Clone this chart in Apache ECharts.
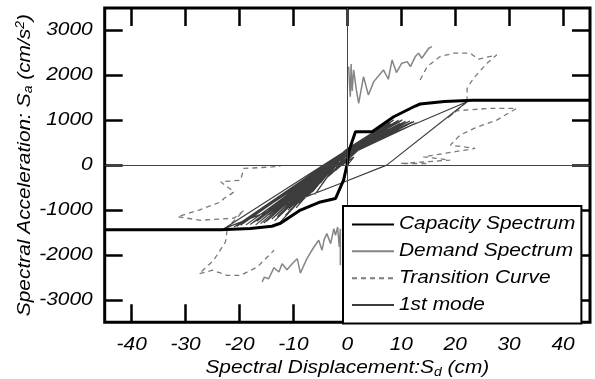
<!DOCTYPE html>
<html>
<head>
<meta charset="utf-8">
<script src="https://cdn.jsdelivr.net/npm/echarts@6/dist/echarts.min.js"></script>
<style>
html,body{margin:0;padding:0;background:#fff;}
#chart{width:595px;height:379px;}
</style>
</head>
<body>
<div id="chart"></div>
<script>
// ---- data ----
const xTicks = [-40, -30, -20, -10, 0, 10, 20, 30, 40];
const yTicks = [-3000, -2000, -1000, 0, 1000, 2000, 3000];

const capacity = [[-45,-1440],[-23.5,-1440],[-18,-1410],[-14,-1360],[-12.4,-1295],[-8.7,-1000],[-5,-820],[-2.2,-744],[-0.7,-335],[0,40],[0.25,297],[1.5,744],[4.6,744],[8.6,1078],[12.6,1317],[13.5,1362],[18,1420],[23.3,1445],[45,1445]];

const demandUpper = [[0.25,2195],[0.4,1800],[0.55,1525],[0.7,2250],[0.9,1650],[1.17,2120],[1.67,1674],[2.1,1377],[3.0,1971],[3.9,1562],[4.9,1860],[6.7,2120],[7.6,1913],[8.3,2344],[9.1,2061],[10.1,2270],[11.1,2306],[11.7,2195],[12.6,2418],[13.2,2493],[13.8,2381],[15.1,2604],[15.7,2641]];

const demandLower = [[-1.3,-2232],[-1.3,-1414],[-1.5,-1823],[-1.8,-1377],[-2.2,-1563],[-2.5,-1414],[-3.1,-1748],[-3.8,-1525],[-4.3,-1659],[-4.7,-1897],[-5.3,-1674],[-6.2,-1823],[-7.5,-2083],[-8.7,-2403],[-9.3,-2083],[-10.1,-2180],[-11.2,-2329],[-12.1,-2195],[-12.7,-2381],[-13.6,-2284],[-14.6,-2530],[-15.4,-2493],[-15.8,-2604]];

const transUpperTop = [[13.5,1897],[14.8,2195],[17.2,2418],[19.7,2493],[22.8,2493],[24.3,2360],[27.7,2455],[25.9,2270],[23.4,1935],[22.2,1712],[22.2,1445]];
const transUpperLow = [[22.2,1413],[18.5,1042],[20.3,1212],[26.5,1265],[31.4,1265],[27.7,1004],[23.5,820],[20.9,670],[19.1,446],[23.7,372],[14.1,186],[19.1,112],[9.8,37],[15.4,37]];
const transLowerTop = [[-22.6,-1440],[-19.2,-1010],[-21,-1180],[-27.2,-1228],[-31.5,-1150],[-27.5,-1000],[-23.5,-820],[-22.9,-744],[-21,-596],[-23.5,-372],[-19.8,-335],[-19.2,-74],[-14,-40],[-12.4,-22]];
const transLowerLow = [[-22.3,-1451],[-22.6,-1712],[-24.8,-2120],[-27.5,-2418],[-25,-2340],[-22.3,-2455],[-19.8,-2455],[-16.7,-2270],[-13.6,-1897]];

const firstMode = [[0,0],[1.2,180],[-1,0],[2,330],[-2.2,-120],[3,450],[-3.5,-250],[-0.6,260],
 [3.5,560],[-0.2,330],[-5,-400],[-0.8,250],[4.2,600],[0.1,360],[-6.5,-600],[-0.5,300],
 [5,680],[-0.9,240],[-8,-750],[-0.3,320],[5.8,720],[-1.1,220],[-9,-850],[0,350],
 [6.5,800],[-0.6,280],[-10,-900],[-0.2,340],[7.2,850],[-1.3,200],[-11,-1000],[-0.4,300],
 [8,930],[-0.7,270],[-12.4,-1265],[0.2,380],[8.6,1004],[-0.5,290],[-13,-1150],[-1,230],
 [9.2,960],[-0.3,320],[-14,-1200],[-0.8,250],[10,990],[0.1,360],[-15,-1250],[-0.6,280],
 [10.8,975],[-1.2,210],[-16.1,-1302],[-0.4,310],[11.6,985],[-0.9,240],[-17.3,-1265],[-0.1,340],
 [12.4,970],[-0.5,290],[-18,-1320],[-0.7,260],[13.5,966],[22.2,1413],[7.3,0],[-1.3,-409],[-22.9,-1414],
 [-0.3,320],[12,960],[-0.8,250],[-19.8,-1340],[-0.4,300],[11,950],[-1.1,220],[-21,-1380],[-0.2,330],
 [9.5,1000],[-0.6,270],[-16.5,-1200],[0,350],[7,880],[-1,230],[-14.5,-1100],[-0.4,300],
 [6,760],[-0.7,260],[-12,-1050],[-0.2,330],[4.8,640],[-0.9,240],[-10.5,-1000],[-0.5,290],
 [3.8,520],[-1.2,200],[-7,-650],[-0.3,320],[2.5,420],[-4,-300],[1.5,300],[-2,-50],[0.5,200],[-0.5,100],
 [-1.5,150],[4.4,700],[-0.8,240],[-11.5,-1120],[0.3,390],[7.8,960],[-1.4,180],[-15.5,-1290],[-0.2,350],
 [10.2,1010],[-1,210],[-13.5,-1240],[0.1,370],[5.5,760],[-1.6,160],[-9.5,-950],[-0.3,330],[8.4,990],
 [-1.2,190],[-17,-1330],[0,360],[3,560],[-2.5,-60],[-6,-650],[-0.9,230],[2,380],[-3,-200],[0,250],
 [-2.4,60],[6.8,820],[-1.8,100],[-13.8,-1180],[-0.6,260],[9.8,930],[-2,90],[-18.8,-1330],[-0.9,230],
 [11.2,900],[-1.7,120],[-10.8,-960],[0.4,400],[6.2,700],[-2.6,30],[-16.8,-1250],[-1.1,210],[12.8,940],
 [-1.9,110],[-8.5,-780],[-0.2,320],[4.6,560],[-2.8,0],[-12.8,-1120],[-1.4,170],[9,870],[-2.2,70],
 [-20.5,-1360],[-0.8,250],[7.6,800],[-1.6,140],[-7.5,-700],[0.2,370],[3.4,480],[-3.2,-120],[-1,180]];

const legendNames = ['Capacity Spectrum','Demand Spectrum','Transition Curve','1st mode'];

// ---- reference glyphs are horizontally stretched: stretch canvas text by K ----
(function(){
  const K = 1.16;
  const proto = CanvasRenderingContext2D.prototype;
  const oFill = proto.fillText, oStroke = proto.strokeText, oMeasure = proto.measureText;
  proto.fillText = function(t, x, y){
    this.save(); this.translate(x, y); this.scale(K, 1); oFill.call(this, t, 0, 0); this.restore();
  };
  proto.strokeText = function(t, x, y){
    this.save(); this.translate(x, y); this.scale(K, 1); oStroke.call(this, t, 0, 0); this.restore();
  };
  proto.measureText = function(t){
    const m = oMeasure.call(this, t);
    return {
      width: m.width * K,
      actualBoundingBoxLeft: m.actualBoundingBoxLeft * K,
      actualBoundingBoxRight: m.actualBoundingBoxRight * K,
      actualBoundingBoxAscent: m.actualBoundingBoxAscent,
      actualBoundingBoxDescent: m.actualBoundingBoxDescent,
      fontBoundingBoxAscent: m.fontBoundingBoxAscent,
      fontBoundingBoxDescent: m.fontBoundingBoxDescent
    };
  };
})();

// ---- chart ----
const FONT = "'Liberation Sans', Arial, sans-serif";
const chart = echarts.init(document.getElementById('chart'), null, {renderer:'canvas'});

const tickStyle = {show:true, inside:true, length:18, lineStyle:{color:'#000', width:2.5}};
const labelStyle = {fontSize:18, fontStyle:'italic', color:'#000', fontFamily:FONT, formatter:v => String(v)};

function lineSeries(name, data, color, width, type, z) {
  return {type:'line', name:name, data:data, xAxisIndex:0, yAxisIndex:0, symbol:'none', showSymbol:false,
    silent:true, z:z, lineStyle:{color:color, width:width, type:type}, itemStyle:{color:color}, animation:false};
}

const series = [
  lineSeries('1st mode', firstMode, '#3c3c3c', 1.2, 'solid', 3),
  lineSeries('Demand Spectrum', demandUpper, '#858585', 1.5, 'solid', 2),
  lineSeries('Demand Spectrum', demandLower, '#858585', 1.5, 'solid', 2),
  lineSeries('Transition Curve', transUpperTop, '#7a7a7a', 1.3, [5,4], 2),
  lineSeries('Transition Curve', transUpperLow, '#7a7a7a', 1.3, [5,4], 2),
  lineSeries('Transition Curve', transLowerTop, '#7a7a7a', 1.3, [5,4], 2),
  lineSeries('Transition Curve', transLowerLow, '#7a7a7a', 1.3, [5,4], 2),
  lineSeries('Capacity Spectrum', capacity, '#000', 3, 'solid', 4)
];
series.push({type:'line', data:[], xAxisIndex:0, yAxisIndex:0, silent:true,
  markLine:{silent:true, symbol:['none','none'], label:{show:false}, animation:false,
    lineStyle:{color:'#444', width:1, type:'solid'}, data:[{xAxis:0},{yAxis:0}]}});

const nameRich = {
  sub:{fontSize:12, fontStyle:'italic', fontFamily:FONT, color:'#000', verticalAlign:'bottom', lineHeight:12, padding:[10,0,0,0]},
  sup:{fontSize:12, fontStyle:'italic', fontFamily:FONT, color:'#000', verticalAlign:'top', lineHeight:12, padding:[0,0,10,0]}
};

const option = {
  animation:false,
  backgroundColor:'#fff',
  grid:{left:104.7, right:5, top:8, bottom:56.7, containLabel:false, outerBoundsMode:'none',
    show:true, borderColor:'#000', borderWidth:3, backgroundColor:'transparent'},
  legend:{orient:'vertical', left:343, top:206, padding:[8,6,8,8], itemWidth:42, itemHeight:14, itemGap:6,
    backgroundColor:'#fff', borderColor:'#000', borderWidth:2, selectedMode:false,
    itemStyle:{opacity:0, borderWidth:0},
    textStyle:{fontSize:18, fontStyle:'italic', fontFamily:FONT, color:'#000'},
    data:legendNames, z:10},
  xAxis:[
    {type:'value', min:-45, max:45, position:'bottom',
     axisLine:{show:false, onZero:false}, axisTick:Object.assign({customValues:xTicks}, tickStyle),
     axisLabel:Object.assign({customValues:xTicks, margin:12}, labelStyle), splitLine:{show:false},
     name:'Spectral Displacement:S{sub|d} (cm)', nameLocation:'middle', nameGap:35, nameMoveOverlap:false,
     nameTextStyle:{fontSize:18, fontStyle:'italic', fontFamily:FONT, color:'#000', lineHeight:22, rich:nameRich}},
    {type:'value', min:-45, max:45, position:'top',
     axisLine:{show:false, onZero:false}, axisTick:Object.assign({customValues:xTicks}, tickStyle),
     axisLabel:{show:false}, splitLine:{show:false}}
  ],
  yAxis:[
    {type:'value', min:-3500, max:3500, position:'left',
     axisLine:{show:false, onZero:false}, axisTick:Object.assign({customValues:yTicks}, tickStyle),
     axisLabel:Object.assign({customValues:yTicks, margin:12}, labelStyle), splitLine:{show:false},
     name:'Spectral Acceleration: S{sub|a} (cm/s{sup|2})', nameLocation:'middle', nameGap:69, nameMoveOverlap:false,
     nameTextStyle:{fontSize:18, fontStyle:'italic', fontFamily:FONT, color:'#000', lineHeight:22, rich:nameRich}},
    {type:'value', min:-3500, max:3500, position:'right',
     axisLine:{show:false, onZero:false}, axisTick:Object.assign({customValues:yTicks}, tickStyle),
     axisLabel:{show:false}, splitLine:{show:false}}
  ],
  series:series
};
chart.setOption(option);
</script>
</body>
</html>
